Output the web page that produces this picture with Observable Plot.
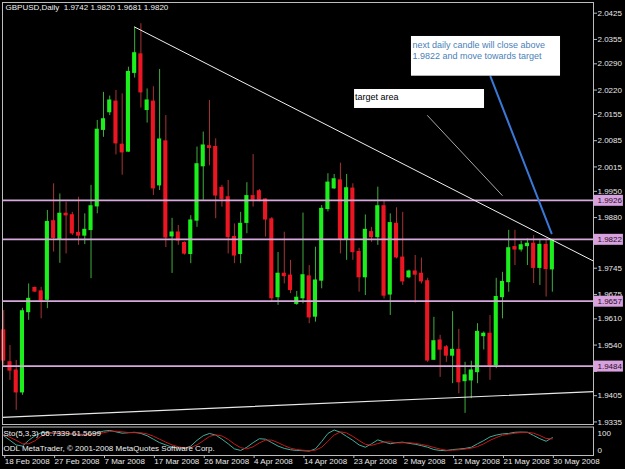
<!DOCTYPE html>
<html><head><meta charset="utf-8">
<script src="https://cdn.jsdelivr.net/npm/d3@7"></script>
<script src="https://cdn.jsdelivr.net/npm/@observablehq/plot@0.6"></script>
<style>
html,body{margin:0;padding:0;background:#000;}
#wrap{position:relative;width:625px;height:469px;background:#000;overflow:hidden;}
#wrap svg{position:absolute;left:0;display:block;}
</style></head><body><div id="wrap"></div>
<script>
// ---- data (GBPUSD daily, 18 Feb 2008 – 30 May 2008, incl. Sunday bars) ----
const opens = [1.9579,1.9494,1.9472,1.9414,1.9628,1.9692,1.9683,1.9661,1.9870,1.9823,
1.9890,1.9886,1.9839,1.9832,1.9847,1.9910,2.0114,2.0161,2.0189,2.0074,
2.0056,2.0266,2.0315,2.0167,2.0189,1.9966,2.0083,1.9830,1.9840,1.9812,
1.9783,1.9872,2.0017,2.0070,2.0068,1.9959,1.9934,1.9828,1.9783,1.9866,
1.9937,1.9950,1.9928,1.9875,1.9668,1.9730,1.9725,1.9650,1.9665,1.9723,
1.9616,1.9712,1.9903,1.9958,1.9979,1.9823,1.9957,1.9788,1.9721,1.9841,
1.9828,1.9910,1.9675,1.9863,1.9773,1.9721,1.9736,1.9730,1.9710,1.9501,
1.9552,1.9534,1.9512,1.9527,1.9444,1.9446,1.9468,1.9564,1.9570,1.9486,
1.9668,1.9708,1.9801,1.9795,1.9804,1.9810,1.9746,1.9807,1.9742];
const highs = [1.9632,1.9539,1.9499,1.9638,1.9703,1.9695,1.9694,1.9899,1.9970,1.9943,
1.9921,1.9894,1.9934,1.9890,1.9966,2.0139,2.0214,2.0204,2.0219,2.0210,
2.0281,2.0388,2.0397,2.0223,2.0229,2.0275,2.0152,1.9878,1.9859,1.9815,
1.9885,2.0068,2.0108,2.0192,2.0090,1.9966,1.9979,1.9863,1.9894,1.9973,
2.0048,1.9955,1.9930,1.9880,1.9787,1.9841,1.9766,1.9683,1.9892,1.9752,
1.9801,1.9912,1.9997,1.9995,2.0025,1.9995,1.9970,1.9798,1.9887,1.9854,
1.9961,1.9926,1.9890,1.9906,1.9894,1.9740,1.9779,1.9772,1.9718,1.9614,
1.9566,1.9539,1.9629,1.9582,1.9494,1.9497,1.9597,1.9575,1.9619,1.9718,
1.9734,1.9846,1.9846,1.9817,1.9823,1.9832,1.9819,1.9823,1.9820];
const lows = [1.9486,1.9446,1.9366,1.9406,1.9606,1.9680,1.9610,1.9637,1.9788,1.9758,
1.9783,1.9832,1.9806,1.9808,1.9717,1.9890,2.0094,2.0152,2.0047,1.9993,
2.0054,2.0252,2.0172,2.0132,1.9939,1.9952,1.9800,1.9731,1.9806,1.9780,
1.9757,1.9854,1.9926,2.0018,1.9877,1.9908,1.9783,1.9757,1.9757,1.9837,
1.9908,1.9922,1.9828,1.9655,1.9646,1.9703,1.9677,1.9646,1.9650,1.9597,
1.9601,1.9690,1.9895,1.9955,1.9783,1.9766,1.9766,1.9681,1.9672,1.9814,
1.9806,1.9663,1.9619,1.9770,1.9699,1.9717,1.9652,1.9703,1.9494,1.9499,
1.9454,1.9494,1.9437,1.9410,1.9358,1.9397,1.9437,1.9527,1.9446,1.9477,
1.9610,1.9681,1.9752,1.9788,1.9752,1.9704,1.9699,1.9668,1.9681];
const closes = [1.9499,1.9472,1.9414,1.9630,1.9663,1.9683,1.9659,1.9868,1.9826,1.9890,
1.9886,1.9838,1.9832,1.9847,1.9910,2.0114,2.0142,2.0192,2.0078,2.0054,
2.0268,2.0318,2.0214,2.0192,1.9958,2.0088,1.9827,1.9840,1.9819,1.9784,
1.9872,2.0022,2.0072,2.0066,1.9939,1.9930,1.9828,1.9779,1.9863,1.9937,
1.9928,1.9928,1.9875,1.9665,1.9730,1.9724,1.9687,1.9666,1.9726,1.9614,
1.9712,1.9903,1.9973,1.9982,1.9823,1.9958,1.9788,1.9721,1.9847,1.9828,
1.9910,1.9672,1.9865,1.9774,1.9710,1.9736,1.9728,1.9710,1.9499,1.9550,
1.9528,1.9512,1.9527,1.9441,1.9459,1.9472,1.9575,1.9570,1.9486,1.9668,
1.9708,1.9798,1.9795,1.9806,1.9810,1.9746,1.9807,1.9743,1.9820];

// Stochastic (5,3,3): main (%K) and signal (%D)
const stoMain = [75,55,35,30,55,75,88,90,86,84, 84,82,80,80,82,88,95,98,92,86,
88,90,85,75,60,45,35,25,22,20, 30,55,75,85,78,60,40,18,11,25,
45,62,60,45,30,20,14,11,10,8, 18,50,85,100,90,72,55,35,25,40,
57,48,40,45,47,42,38,32,25,15, 11,10,15,17,20,25,40,54,70,78,
83,85,90,91,90,76,62,51,66.7339];
const stoSignal = [80,68,55,40,40,53,73,84,88,87, 85,83,82,81,81,83,88,94,95,92,
89,88,88,83,73,60,47,35,27,22, 24,35,53,72,79,74,59,39,23,18,
27,44,56,56,45,32,21,15,12,10, 12,25,51,78,92,87,72,54,38,33,
41,48,48,44,44,45,42,37,32,24, 17,12,12,14,17,21,28,40,55,67,
77,82,86,89,90,86,76,63,61.5699];

// horizontal levels and price-axis ticks
const levels = [1.9926, 1.9822, 1.9657, 1.9484];
const priceTicks = [2.0425,2.0355,2.0290,2.0220,2.0155,2.0085,2.0015,1.9950,1.9880,1.9810,1.9745,1.9675,1.9610,1.9540,1.9470,1.9405,1.9335];
// tick values whose labels sit under a level label on the axis
const hiddenTicks = [1.9810, 1.9470];

// date axis (bar index of each label)
const dateTickBars = [0,8,16,24,32,40,48,56,64,72,80,88];
const dateLabels = ["18 Feb 2008","27 Feb 2008","7 Mar 2008","17 Mar 2008","26 Mar 2008","4 Apr 2008","14 Apr 2008","23 Apr 2008","2 May 2008","12 May 2008","21 May 2008","30 May 2008"];

// drawn objects (bar index, price)
const resistanceLine = [{i: 21, p: 2.0388}, {i: 94.6, p: 1.9764}];
const supportLine = [{i: -0.2, p: 1.9347}, {i: 94.6, p: 1.9416}];
const pointerLine = [{i: 67.97, p: 2.0152}, {i: 79.96, p: 1.9939}];
const arrowLine = [{i: 78.08, p: 2.0256}, {i: 87.87, p: 1.9838}];
const targetNote = [{i1: 56.27, i2: 77.12, p1: 2.02215, p2: 2.01709, i: 56.27, p: 2.0201, text: "target area"}];
const forecastNote = [{i1: 65.4, i2: 89.31, p1: 2.03629, p2: 2.0257, i: 65.4, p: 2.03269, text: "next daily candle will close above\n1.9822 and move towards target"}];

const titleText = "GBPUSD,Daily  1.9742 1.9820 1.9681 1.9820";
const stoLabel = "Sto(5,3,3) 66.7339 61.5699";
const copyright = "ODL MetaTrader, \u00a9 2001-2008 MetaQuotes Software Corp.";

// ---- build ----
const bars = opens.map((o, i) => ({i, o, h: highs[i], l: lows[i], c: closes[i], up: closes[i] >= o}));
const sto = stoMain.map((k, i) => ({i, k, d: stoSignal[i]}));

const FONT = "'Liberation Sans', Arial, sans-serif";
const XDOM = [-0.2, 94.6];
const wrap = document.getElementById("wrap");

const main = Plot.plot({
  width: 625, height: 425,
  marginLeft: 2, marginRight: 32, marginTop: 2, marginBottom: 1,
  style: {background: "#000", color: "#e8e8e8", fontFamily: FONT, fontSize: "8px", overflow: "visible"},
  x: {domain: XDOM, axis: null},
  y: {domain: [1.93282, 2.04535], axis: null},
  marks: [
    // wicks
    Plot.ruleX(bars, {filter: d => d.up, x: "i", y1: "l", y2: "h", stroke: "#3fae3f", strokeWidth: 1}),
    Plot.ruleX(bars, {filter: d => !d.up, x: "i", y1: "l", y2: "h", stroke: "#a83434", strokeWidth: 1}),
    // bodies
    Plot.rect(bars, {filter: d => d.up, x1: d => d.i - 0.33, x2: d => d.i + 0.33, y1: d => Math.min(d.o, d.c), y2: d => Math.max(d.o, d.c), fill: "#1cf01c", insetTop: -0.6, insetBottom: -0.6}),
    Plot.rect(bars, {filter: d => !d.up, x1: d => d.i - 0.33, x2: d => d.i + 0.33, y1: d => Math.min(d.o, d.c), y2: d => Math.max(d.o, d.c), fill: "#ec1622", insetTop: -0.6, insetBottom: -0.6}),
    // horizontal levels
    Plot.ruleY(levels, {x1: XDOM[0], x2: XDOM[1], stroke: "#d6a8dc", strokeWidth: 1.8}),
    // trend lines
    Plot.line(supportLine, {x: "i", y: "p", stroke: "#e8e8e8", strokeWidth: 1.2}),
    Plot.line(resistanceLine, {x: "i", y: "p", stroke: "#f0f0f0", strokeWidth: 1}),
    Plot.line(pointerLine, {x: "i", y: "p", stroke: "#a8a8a8", strokeWidth: 1}),
    Plot.line(arrowLine, {x: "i", y: "p", stroke: "#3a78d8", strokeWidth: 2}),
    // notes
    Plot.rect(targetNote, {x1: "i1", x2: "i2", y1: "p1", y2: "p2", fill: "#ffffff"}),
    Plot.text(targetNote, {x: "i", y: "p", text: "text", textAnchor: "start", dx: 0.5, fill: "#000", fontSize: 9}),
    Plot.rect(forecastNote, {x1: "i1", x2: "i2", y1: "p1", y2: "p2", fill: "#ffffff"}),
    Plot.text(forecastNote, {x: "i", y: "p", text: "text", textAnchor: "start", dx: 1, lineAnchor: "middle", lineHeight: 1.22, fill: "#4a7fb8", fontSize: 9}),
    // frame and price axis
    Plot.frame({stroke: "#bdbdbd"}),
    Plot.axisY({anchor: "right", ticks: priceTicks, tickFormat: d => hiddenTicks.includes(d) ? "" : d.toFixed(4), tickSize: 3, tickPadding: 1, stroke: "#bdbdbd", fill: "#e8e8e8", fontSize: 8, label: null}),
    // level labels on the axis
    Plot.ruleY(levels, {x1: XDOM[1] + 0.1, x2: XDOM[1] + 4.8, stroke: "#d8a2de", strokeWidth: 11}),
    Plot.text(levels, {x: XDOM[1], y: d => d, text: d => d.toFixed(4), dx: 4, textAnchor: "start", fill: "#2a0c2a", fontSize: 8}),
    // title
    Plot.text([titleText], {frameAnchor: "top-left", dx: 3, dy: 2, textAnchor: "start", lineAnchor: "top", fill: "#f0f0f0", fontSize: 8})
  ]
});
main.style.top = "0px";
wrap.appendChild(main);

const stoch = Plot.plot({
  width: 625, height: 44,
  marginLeft: 2, marginRight: 32, marginTop: 1.5, marginBottom: 14,
  style: {background: "transparent", color: "#e8e8e8", fontFamily: FONT, fontSize: "8px", overflow: "visible"},
  x: {domain: XDOM, axis: null},
  y: {domain: [-10.9, 113], axis: null},
  marks: [
    Plot.line(sto, {x: "i", y: "k", stroke: "#3fae9c", strokeWidth: 1}),
    Plot.line(sto, {x: "i", y: "d", stroke: "#c81818", strokeWidth: 1}),
    Plot.frame({stroke: "#bdbdbd"}),
    Plot.text([stoLabel], {frameAnchor: "top-left", dx: 1, dy: 3, textAnchor: "start", lineAnchor: "top", fill: "#f0f0f0", fontSize: 8}),
    Plot.text([copyright], {frameAnchor: "top-left", dx: 1, dy: 18, textAnchor: "start", lineAnchor: "top", fill: "#f0f0f0", fontSize: 8}),
    Plot.axisY({anchor: "right", ticks: [100], tickFormat: d => String(d), tickSize: 0, tickPadding: 4, dy: 3, fill: "#e8e8e8", fontSize: 8, label: null}),
    Plot.axisY({anchor: "right", ticks: [0], tickFormat: d => String(d), tickSize: 0, tickPadding: 4, dy: -2.5, fill: "#e8e8e8", fontSize: 8, label: null}),
    Plot.axisX({anchor: "bottom", ticks: dateTickBars, tickFormat: d => dateLabels[dateTickBars.indexOf(d)], tickSize: 3, tickPadding: 0, textAnchor: "start", dx: 1, stroke: "#bdbdbd", fill: "#e8e8e8", fontSize: 8, label: null})
  ]
});
stoch.style.top = "425px";
wrap.appendChild(stoch);
</script>
</body></html>
